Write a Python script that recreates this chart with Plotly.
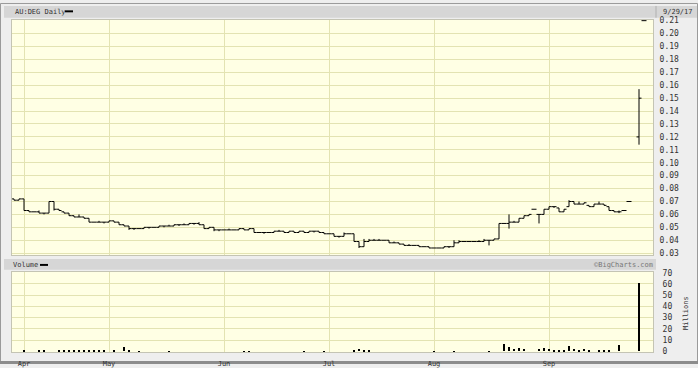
import plotly.graph_objects as go

W, H = 698, 368

# ---------------- data ----------------
day_idx = list(range(128))
month_idx = [2, 19, 42, 63, 84, 107]
month_lbl = ["Apr", "May", "Jun", "Jul", "Aug", "Sep"]

p_open = [.072,.071,.072,.063,.062,.062,.061,.061,.070,.064,.062,.061,.059,.058,.058,.057,.054,.054,.054,.054,
          .055,.054,.052,.051,.049,.049,.049,.050,.050,.050,.051,.051,.051,.052,.052,.052,.053,.053,.052,.049,
          .050,.048,.048,.048,.048,.048,.049,.048,.049,.046,.046,.046,.046,.047,.047,.046,.047,.046,.047,.046,
          .047,.047,.046,.045,.045,.043,.043,.045,.045,.039,.035,.039,.040,.040,.040,.040,.038,.038,.037,.036,
          .036,.036,.035,.035,.034,.034,.034,.035,.035,.038,.039,.039,.039,.039,.039,.040,.040,.041,.053,.053,
          .054,.054,.057,.059,.064,.060,.060,.064,.066,.065,.062,.066,.070,.068,.068,.067,.066,.068,.068,.066,
          .063,.062,.063,.070,None,.120,.210,None]
p_high = [.072,.072,.072,.063,.062,.063,.061,.070,.070,.064,.062,.061,.059,.060,.058,.057,.054,.055,.054,.055,
          .055,.054,.052,.051,.049,.049,.050,.050,.050,.051,.051,.052,.052,.052,.053,.053,.053,.054,.052,.050,
          .050,.048,.048,.049,.048,.049,.049,.049,.049,.046,.046,.046,.047,.048,.047,.047,.047,.047,.047,.047,
          .047,.047,.046,.045,.045,.043,.046,.045,.045,.039,.041,.041,.041,.041,.040,.040,.039,.038,.037,.037,
          .036,.036,.035,.035,.034,.034,.035,.035,.040,.040,.039,.039,.039,.040,.041,.040,.041,.053,.053,.060,
          .055,.057,.059,.060,.064,.060,.064,.066,.066,.065,.064,.071,.070,.070,.069,.067,.068,.070,.068,.066,
          .063,.063,.063,.070,None,.157,.210,None]
p_low = [.071,.071,.063,.062,.062,.061,.060,.061,.063,.063,.061,.059,.058,.058,.057,.054,.054,.054,.053,.054,
         .054,.052,.051,.048,.048,.049,.049,.049,.050,.050,.050,.051,.051,.051,.052,.052,.052,.052,.049,.049,
         .047,.047,.048,.048,.048,.048,.048,.048,.046,.046,.045,.046,.046,.047,.046,.046,.046,.046,.046,.046,
         .046,.046,.045,.045,.043,.042,.043,.045,.039,.034,.035,.039,.040,.040,.040,.038,.038,.037,.036,.036,
         .036,.035,.035,.034,.034,.034,.034,.034,.035,.038,.039,.039,.039,.039,.039,.036,.040,.041,.053,.049,
         .054,.054,.057,.059,.064,.053,.060,.064,.065,.062,.062,.066,.068,.068,.068,.066,.066,.068,.067,.063,
         .062,.061,.063,.070,None,.114,.210,None]
p_close = [.071,.072,.063,.062,.062,.061,.061,.070,.064,.063,.061,.059,.058,.058,.057,.054,.054,.054,.054,.055,
           .054,.052,.051,.049,.049,.049,.050,.050,.050,.051,.051,.051,.052,.052,.052,.053,.053,.052,.049,.050,
           .048,.048,.048,.048,.048,.049,.048,.049,.046,.046,.046,.046,.047,.047,.046,.047,.046,.047,.046,.047,
           .047,.046,.045,.045,.043,.043,.045,.045,.039,.035,.039,.040,.040,.040,.040,.038,.038,.037,.036,.036,
           .036,.035,.035,.034,.034,.034,.035,.035,.038,.039,.039,.039,.039,.039,.040,.040,.041,.053,.053,.054,
           .054,.057,.059,.060,.064,.060,.064,.066,.066,.062,.064,.070,.068,.068,.069,.066,.068,.068,.067,.063,
           .062,.062,.063,.070,None,.150,.210,None]

volume_m = [0,0,1.5,0,0,0.5,0.5,0,0,0.5,0.7,1.0,0.7,1.0,1.0,0.7,0.5,0.5,0.5,0,
            0.5,0,4.4,0.5,0,0.4,0,0,0,0,0,0.4,0,0,0,0,0,0,0,0,
            0,0,0,0,0,0,0.4,0.4,0,0,0,0,0,0,0,0,0,0,0.4,0,
            0,0,0.4,0,0,0,0,0,1.0,2.0,0.8,0.6,0,0,0,0,0,0,0,0,
            0,0,0,0,0.4,0,0,0,0.4,0,0,0,0,0,0,0.4,0,0,6.4,3.8,
            2.6,3.0,2.6,0,0,2.0,3.5,1.8,1.3,0.8,1.2,5.0,2.2,1.3,2.4,0.9,0,0.8,0.8,1.3,
            0,5.8,0,0,0,61.5,0,0]

price_ticks = [0.03,0.04,0.05,0.06,0.07,0.08,0.09,0.10,0.11,0.12,0.13,0.14,0.15,0.16,0.17,0.18,0.19,0.20,0.21]
vol_ticks = [0, 10, 20, 30, 40, 50, 60, 70]

# keep only traded days for the price bars
keep = [k for k in range(len(day_idx)) if p_open[k] is not None]
ox = [day_idx[k] for k in keep]

# ---------------- helpers (pixel -> paper) ----------------
def fx(p):
    return p / W

def fy(p):
    return 1 - p / H

FONT = "DejaVu Sans Mono"
TXT = "#333333"
GRID = "#e3e3b2"
PLOTBG = "#ffffe4"

fig = go.Figure()

fig.add_trace(go.Ohlc(
    x=ox,
    open=[p_open[k] for k in keep], high=[p_high[k] for k in keep],
    low=[p_low[k] for k in keep], close=[p_close[k] for k in keep],
    increasing=dict(line=dict(color="black", width=1)),
    decreasing=dict(line=dict(color="black", width=1)),
    tickwidth=0.5, xaxis="x", yaxis="y", showlegend=False, hoverinfo="skip",
))

fig.add_trace(go.Bar(
    x=day_idx, y=volume_m, width=0.42, marker=dict(color="black", line=dict(width=0)),
    xaxis="x2", yaxis="y2", showlegend=False, hoverinfo="skip",
))

xdom = [fx(12), fx(653)]
xr = [-0.4, 127.8]

fig.update_layout(
    width=W, height=H,
    margin=dict(l=0, r=0, t=0, b=0),
    paper_bgcolor="#eeeeee",
    plot_bgcolor=PLOTBG,
    bargap=0,
    xaxis=dict(domain=xdom, range=xr, anchor="y", tickvals=month_idx, showticklabels=False,
               showgrid=True, gridcolor=GRID, gridwidth=1, zeroline=False, ticks="",
               rangeslider=dict(visible=False), showline=True, linecolor="#c4c4b4", mirror=True),
    xaxis2=dict(domain=xdom, range=xr, anchor="y2", matches="x", tickvals=month_idx, ticktext=month_lbl,
                tickfont=dict(family=FONT, size=7, color=TXT), showgrid=True, gridcolor=GRID,
                zeroline=False, ticks="", ticklabelstandoff=4,
                showline=True, linecolor="#c4c4b4", mirror=True),
    yaxis=dict(domain=[fy(257), fy(17)], range=[0.03 - 2 / 1317, 0.21 + 1 / 1317], anchor="x", side="right",
               tickvals=price_ticks, ticktext=["%.2f" % v for v in price_ticks],
               tickfont=dict(family=FONT, size=8, color=TXT), showgrid=True, gridcolor=GRID,
               zeroline=False, ticks="outside", ticklen=4, tickcolor="rgba(0,0,0,0)",
               showline=True, linecolor="#c4c4b4", mirror=True),
    yaxis2=dict(domain=[fy(356), fy(274)], range=[-0.88, 70.88], anchor="x2", side="right",
                tickvals=vol_ticks, ticktext=[str(v) for v in vol_ticks],
                tickfont=dict(family=FONT, size=8, color=TXT), showgrid=True, gridcolor=GRID,
                zeroline=False, ticks="outside", ticklen=7, tickcolor="rgba(0,0,0,0)",
                showline=True, linecolor="#c4c4b4", mirror=True),
)

shapes = [
    # outer frame
    dict(type="rect", xref="paper", yref="paper", x0=fx(0.5), x1=fx(697.5), y0=fy(367.5), y1=fy(0.5),
         line=dict(color="#9a9a9a", width=1), fillcolor="rgba(0,0,0,0)", layer="below"),
    # header bar price
    dict(type="rect", xref="paper", yref="paper", x0=fx(4), x1=fx(697), y0=fy(15), y1=fy(3),
         line=dict(width=0), fillcolor="#d6d6d6", layer="below"),
    dict(type="line", xref="paper", yref="paper", x0=fx(656), x1=fx(656), y0=fy(15), y1=fy(3),
         line=dict(color="#b0b0b0", width=1)),
    # header bar volume
    dict(type="rect", xref="paper", yref="paper", x0=fx(4), x1=fx(656), y0=fy(272), y1=fy(261),
         line=dict(width=0), fillcolor="#d6d6d6", layer="below"),
    # legend dashes
    dict(type="rect", xref="paper", yref="paper", x0=fx(65), x1=fx(73), y0=fy(9.5), y1=fy(7.5),
         line=dict(width=0), fillcolor="black"),
    dict(type="rect", xref="paper", yref="paper", x0=fx(40), x1=fx(48), y0=fy(268), y1=fy(266),
         line=dict(width=0), fillcolor="black"),
    # bottom dark border
    dict(type="rect", xref="paper", yref="paper", x0=0, x1=1, y0=0, y1=fy(365),
         line=dict(width=0), fillcolor="#8c8c8c", layer="below"),
]
fig.update_layout(shapes=shapes)

ann = [
    dict(text="AU:DEG Daily", x=fx(13), y=fy(9), xanchor="left", yanchor="middle", size=7),
    dict(text="9/29/17", x=fx(695), y=fy(9), xanchor="right", yanchor="middle", size=7),
    dict(text="Volume", x=fx(11), y=fy(267), xanchor="left", yanchor="middle", size=7),
    dict(text="\u00a9BigCharts.com", x=fx(623), y=fy(267), xanchor="center", yanchor="middle",
         color="#777777", size=7),
    dict(text="Millions", x=fx(686), y=fy(316), xanchor="center", yanchor="middle", textangle=-90, size=7),
]
fig.update_layout(annotations=[
    dict(text=a["text"], x=a["x"], y=a["y"], xref="paper", yref="paper", xanchor=a["xanchor"],
         yanchor=a["yanchor"], showarrow=False, textangle=a.get("textangle", 0),
         font=dict(family=FONT, size=a.get("size", 8), color=a.get("color", TXT)))
    for a in ann
])

fig.write_html("out.html")
